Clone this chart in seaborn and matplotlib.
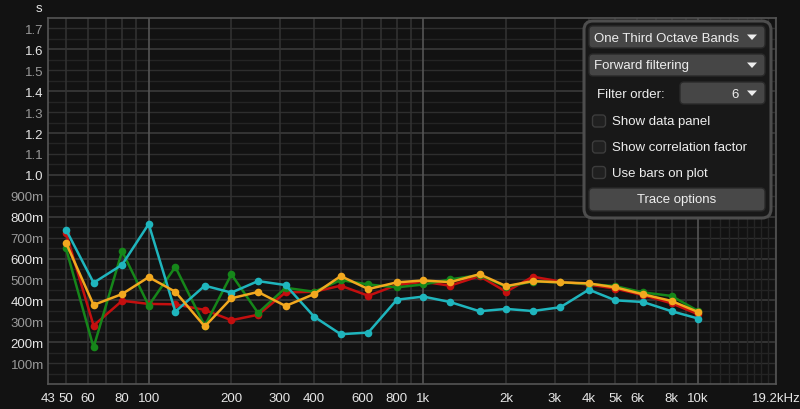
import numpy as np
import pandas as pd
import matplotlib
matplotlib.use('Agg')
import matplotlib.pyplot as plt
import seaborn as sns
from matplotlib.patches import FancyBboxPatch, Polygon

# one third octave band centres (Hz)
freqs = [50, 63, 80, 100, 125, 160, 200, 250, 315, 400, 500, 630, 800,
         1000, 1250, 1600, 2000, 2500, 3150, 4000, 5000, 6300, 8000, 10000]

# reverberation times (s)
green = [0.648, 0.175, 0.635, 0.375, 0.560, 0.278, 0.524, 0.340, 0.460, 0.441, 0.497, 0.476,
         0.462, 0.476, 0.500, 0.521, 0.465, 0.490, 0.486, 0.478, 0.468, 0.438, 0.421, 0.349]
red = [0.722, 0.279, 0.398, 0.383, 0.381, 0.354, 0.305, 0.331, 0.438, 0.441, 0.470, 0.422,
       0.473, 0.489, 0.470, 0.516, 0.441, 0.513, 0.490, 0.475, 0.456, 0.425, 0.386, 0.333]
cyan = [0.738, 0.484, 0.570, 0.765, 0.346, 0.470, 0.437, 0.492, 0.473, 0.322, 0.238, 0.246,
        0.403, 0.418, 0.392, 0.348, 0.359, 0.349, 0.367, 0.451, 0.400, 0.392, 0.348, 0.313]
orange = [0.675, 0.378, 0.430, 0.511, 0.441, 0.275, 0.410, 0.440, 0.373, 0.430, 0.516, 0.454,
          0.486, 0.495, 0.487, 0.525, 0.468, 0.492, 0.486, 0.481, 0.462, 0.429, 0.397, 0.344]

xtick_vals = [43, 50, 60, 80, 100, 200, 300, 400, 600, 800, 1000, 2000, 3000,
              4000, 5000, 6000, 8000, 10000, 19200]
xtick_labels = ['43', '50', '60', '80', '100', '200', '300', '400', '600', '800', '1k',
                '2k', '3k', '4k', '5k', '6k', '8k', '10k', '19.2kHz']
ytick_vals = [0.1, 0.2, 0.3, 0.4, 0.5, 0.6, 0.7, 0.8, 0.9, 1.0, 1.1, 1.2, 1.3, 1.4, 1.5, 1.6, 1.7]
ytick_labels = ['100m', '200m', '300m', '400m', '500m', '600m', '700m', '800m', '900m',
                '1.0', '1.1', '1.2', '1.3', '1.4', '1.5', '1.6', '1.7']

series = {'red': red, 'green': green, 'cyan': cyan, 'orange': orange}
colors = {'red': '#c40f0f', 'green': '#16861a', 'cyan': '#1fb5bd', 'orange': '#f2a81f'}

df = pd.concat([pd.DataFrame({'freq': freqs, 'rt': v, 'trace': k}) for k, v in series.items()])

sns.set_style('dark')
plt.rcParams['font.family'] = ['Liberation Sans', 'DejaVu Sans']

bg = '#121212'
fig = plt.figure(figsize=(8, 4.1), dpi=100, facecolor=bg)
ax = fig.add_axes([48/800, 1-385/410, (776-48)/800, (385-19)/410])
ax.set_facecolor(bg)

ax.set_xscale('log')
ax.set_xlim(43, 19200)
ax.set_ylim(0, 1.75)

# grid
for v in np.arange(0.05, 1.75, 0.05):
    k = int(round(v / 0.05))
    c = '#3a3a3a' if k % 4 == 0 else ('#2e2e2e' if k % 2 == 0 else '#242424')
    ax.axhline(v, color=c, lw=1.2 if k % 4 == 0 else 1.0, zorder=0)
vgrid = [50, 60, 70, 80, 90, 200, 300, 400, 500, 600, 700, 800, 900,
         2000, 3000, 4000, 5000, 6000, 7000, 8000, 9000]
for v in vgrid:
    ax.axvline(v, color='#333333', lw=1.1, zorder=0)
for v in range(11000, 20000, 1000):
    ax.axvline(v, color='#242424', lw=1.0, zorder=0)
for v in [100, 1000, 10000]:
    ax.axvline(v, color='#555555', lw=1.2, zorder=0)

sns.lineplot(data=df, x='freq', y='rt', hue='trace', hue_order=list(series.keys()),
             palette=colors, marker='o', markersize=5.5, markeredgewidth=0,
             linewidth=1.8, legend=False, ax=ax, zorder=3)

ax.set_xticks(xtick_vals)
ax.set_xticklabels(xtick_labels)
ax.xaxis.set_minor_locator(matplotlib.ticker.NullLocator())
ax.set_yticks(ytick_vals)
ax.set_yticklabels(ytick_labels)
ax.tick_params(length=0, labelsize=9.5, pad=3)
ax.tick_params(axis='x', pad=6)
for lab in ax.get_xticklabels():
    lab.set_color('#e6e6e6')
for i, lab in enumerate(ax.get_yticklabels()):
    lab.set_color('#e6e6e6' if i % 2 == 1 else '#9a9a9a')
ax.set_xlabel('')
ax.set_ylabel('')
for s in ax.spines.values():
    s.set_color('#555555')
    s.set_linewidth(1.2)
fig.text(42/800, 1-9/410, 's', color='#e6e6e6', fontsize=9.5, ha='right', va='center')

# option panel overlay
ui = fig.add_axes([0, 0, 1, 1], zorder=10)
ui.set_xlim(0, 800)
ui.set_ylim(410, 0)
ui.axis('off')
ui.patch.set_alpha(0)


def rbox(x0, y0, x1, y1, fc, ec, r=3, lw=1.0):
    ui.add_patch(FancyBboxPatch((x0, y0), x1-x0, y1-y0,
                                boxstyle=f'round,pad=0,rounding_size={r}',
                                fc=fc, ec=ec, lw=lw))


def arrow(xc, yc):
    ui.add_patch(Polygon([[xc-5, yc-2.5], [xc+5, yc-2.5], [xc, yc+3]], closed=True,
                         fc='#eeeeee', ec='none'))


rbox(584, 22, 771, 219, '#181818', '#4d4d4d', r=9, lw=2.2)
rbox(589, 27, 765, 49, '#464646', '#2a2a2a', r=4)
ui.text(594, 38.5, 'One Third Octave Bands', color='#eeeeee', fontsize=9.5, va='center')
arrow(752, 38)
rbox(589, 55, 765, 77, '#464646', '#2a2a2a', r=4)
ui.text(594, 66.5, 'Forward filtering', color='#eeeeee', fontsize=9.5, va='center')
arrow(752, 66)
ui.text(597, 94.5, 'Filter order:', color='#eeeeee', fontsize=9.5, va='center')
rbox(680, 83, 765, 105, '#464646', '#2a2a2a', r=4)
ui.text(739, 94.5, '6', color='#eeeeee', fontsize=9.5, va='center', ha='right')
arrow(752, 94)
for yy, txt in [(122, 'Show data panel'), (148, 'Show correlation factor'), (173.5, 'Use bars on plot')]:
    rbox(592.5, yy-6, 605.5, yy+6, '#202020', '#3c3c3c', r=3)
    ui.text(612, yy+0.5, txt, color='#eeeeee', fontsize=9.5, va='center')
rbox(589, 189, 765, 212, '#484848', '#2a2a2a', r=4)
ui.text(677, 200.5, 'Trace options', color='#eeeeee', fontsize=9.5, va='center', ha='center')

fig.savefig('out.png', dpi=100, facecolor=bg)
